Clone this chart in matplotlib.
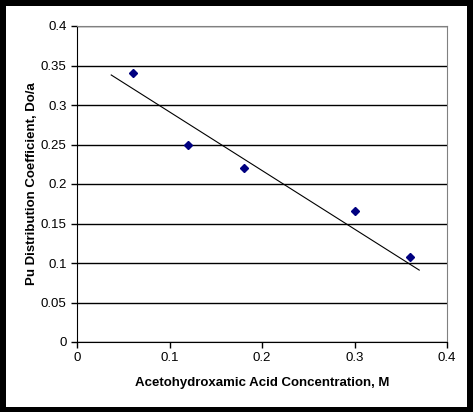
import matplotlib
matplotlib.use("Agg")
import matplotlib.pyplot as plt
from matplotlib.patches import Rectangle

plt.rcParams['font.family'] = ['Liberation Sans', 'DejaVu Sans']

# measured points
conc = [0.06, 0.12, 0.18, 0.30, 0.36]
dist_coef = [0.34, 0.25, 0.22, 0.166, 0.108]

# trendline ends as drawn in the chart
trend_x = [0.037, 0.37]
trend_y = [0.338, 0.091]

W, H = 473, 412
fig = plt.figure(figsize=(W / 100, H / 100), dpi=100, facecolor='black')
fig.patches.append(Rectangle((6 / W, 5 / H), 461 / W, 401 / H,
                             transform=fig.transFigure, facecolor='white',
                             edgecolor='none', zorder=-10))

ax = fig.add_axes([77 / W, 70 / H, 370 / W, 316 / H])
ax.set_xlim(0, 0.4)
ax.set_ylim(0, 0.4)
ax.set_xticks([0, 0.1, 0.2, 0.3, 0.4])
ax.set_xticklabels(['0', '0.1', '0.2', '0.3', '0.4'])
ax.set_yticks([i * 0.05 for i in range(9)])
ax.set_yticklabels(['0', '0.05', '0.1', '0.15', '0.2', '0.25', '0.3', '0.35', '0.4'])

ax.yaxis.grid(True, color='black', linewidth=1)
ax.set_axisbelow(True)
for side in ['top', 'right']:
    ax.spines[side].set_color('#808080')
for side in ['left', 'bottom']:
    ax.spines[side].set_color('black')
ax.tick_params(direction='out', length=4, width=1, labelsize=9.5, colors='black')

ax.plot(trend_x, trend_y, color='black', linewidth=0.8)
ax.plot(conc, dist_coef, linestyle='none', marker='D', markersize=4.3,
        color='#000080')

ax.set_xlabel('Acetohydroxamic Acid Concentration, M', fontsize=9.5,
              fontweight='bold', labelpad=9)
ax.set_ylabel('Pu Distribution Coefficient, Do/a', fontsize=9.5,
              fontweight='bold', labelpad=2)

fig.savefig('out.png', dpi=100, facecolor='black')
